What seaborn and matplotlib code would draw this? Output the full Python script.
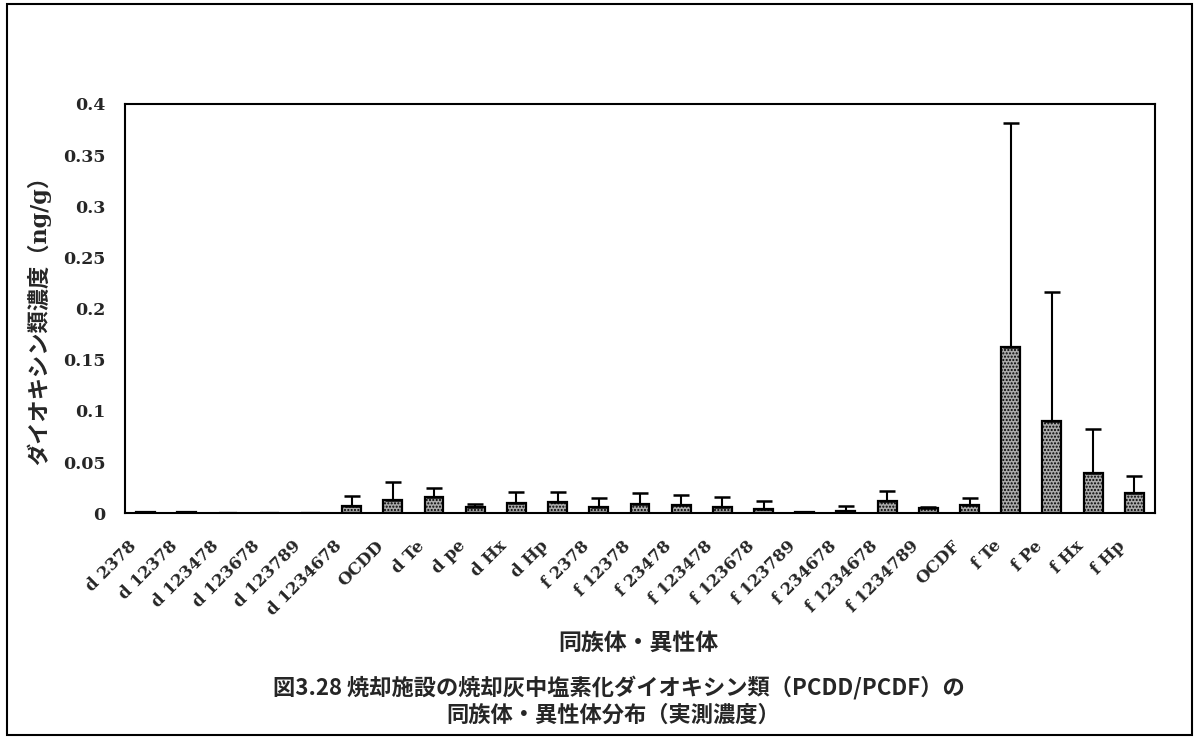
import numpy as np
import matplotlib
matplotlib.use('Agg')
import matplotlib.pyplot as plt
import matplotlib.transforms as mtransforms
import seaborn as sns
from matplotlib.patches import Rectangle

# congener / isomer labels
congeners = ['d 2378', 'd 12378', 'd 123478', 'd 123678', 'd 123789', 'd 1234678',
             'OCDD', 'd Te', 'd pe', 'd Hx', 'd Hp',
             'f 2378', 'f 12378', 'f 23478', 'f 123478', 'f 123678', 'f 123789',
             'f 234678', 'f 1234678', 'f 1234789', 'OCDF',
             'f Te', 'f Pe', 'f Hx', 'f Hp']

# measured concentration (ng/g), mean
conc_mean = [0.001, 0.001, 0.0, 0.0, 0.0, 0.0075,
             0.013, 0.016, 0.006, 0.010, 0.011,
             0.006, 0.009, 0.008, 0.006, 0.004, 0.001,
             0.002, 0.012, 0.005, 0.008,
             0.163, 0.090, 0.039, 0.020]

# upper error (standard deviation)
conc_sd = [0.0, 0.0, 0.0, 0.0, 0.0, 0.0095,
           0.018, 0.009, 0.003, 0.011, 0.010,
           0.009, 0.011, 0.010, 0.010, 0.008, 0.0,
           0.005, 0.010, 0.001, 0.007,
           0.218, 0.126, 0.043, 0.016]

yticks = [0, 0.05, 0.1, 0.15, 0.2, 0.25, 0.3, 0.35, 0.4]

sns.set_style('white')
plt.rcParams['font.family'] = ['DejaVu Serif', 'Noto Sans CJK JP']
plt.rcParams['font.weight'] = 'bold'
plt.rcParams['hatch.color'] = '#505050'
plt.rcParams['hatch.linewidth'] = 1.0

fig = plt.figure(figsize=(11.94, 7.37), dpi=100)
ax = fig.add_axes([0.1047, 0.3035, 0.8626, 0.5554])

sns.barplot(x=congeners, y=conc_mean, color='#ababab', width=0.46,
            edgecolor='black', linewidth=1.6, saturation=1, ax=ax)
for bar in ax.patches:
    bar.set_hatch('.....')

xpos = np.arange(len(congeners))
ax.errorbar(xpos, conc_mean, yerr=[np.zeros(len(conc_sd)), conc_sd], fmt='none',
            ecolor='black', elinewidth=1.5, capsize=6, capthick=1.8)

ax.set_xlim(-0.5, len(congeners) - 0.5)
ax.set_ylim(0, 0.4)
ax.set_yticks(yticks)
ax.set_yticklabels(['0' if v == 0 else f'{v:g}' for v in yticks],
                   fontsize=12.5, fontweight='bold')
ax.set_xticks(xpos)
ax.set_xticklabels(congeners, rotation=45, ha='right', rotation_mode='anchor',
                   fontsize=12, fontweight='bold')
ax.set_xticks(xpos[:-1] + 0.5, minor=True)
ax.tick_params(axis='x', which='major', length=0, pad=8)
ax.tick_params(axis='x', which='minor', direction='in', length=5, width=1.2, color='black')
ax.tick_params(axis='y', direction='in', length=5, width=1.2, color='black', pad=14)

# shift the rotated labels a bit left and down like the original
shift = mtransforms.ScaledTranslation(-0.18, -0.13, fig.dpi_scale_trans)
for lab in ax.get_xticklabels():
    lab.set_transform(lab.get_transform() + shift)

for side in ax.spines.values():
    side.set_color('black')
    side.set_linewidth(1.5)

ax.set_xlabel('')
ax.set_ylabel('')

fig.text(0.033, 0.572, 'ダイオキシン類濃度（ng/g）', rotation=90, ha='center', va='center',
         fontsize=16, fontweight='bold')
cjk = ['Noto Sans CJK JP']
fig.text(0.535, 0.1275, '同族体・異性体', ha='center', va='center', fontsize=16.5,
         fontweight='bold', family=cjk)
fig.text(0.518, 0.0665, '図3.28 焼却施設の焼却灰中塩素化ダイオキシン類（PCDD/PCDF）の',
         ha='center', va='center', fontsize=16, fontweight='bold', family=cjk)
fig.text(0.514, 0.030, '同族体・異性体分布（実測濃度）',
         ha='center', va='center', fontsize=16, fontweight='bold', family=cjk)

# outer frame around the whole figure
fig.patches.append(Rectangle((0.006, 0.003), 0.992, 0.991, transform=fig.transFigure,
                             fill=False, edgecolor='black', linewidth=1.5))

fig.savefig('out.png', dpi=100)
